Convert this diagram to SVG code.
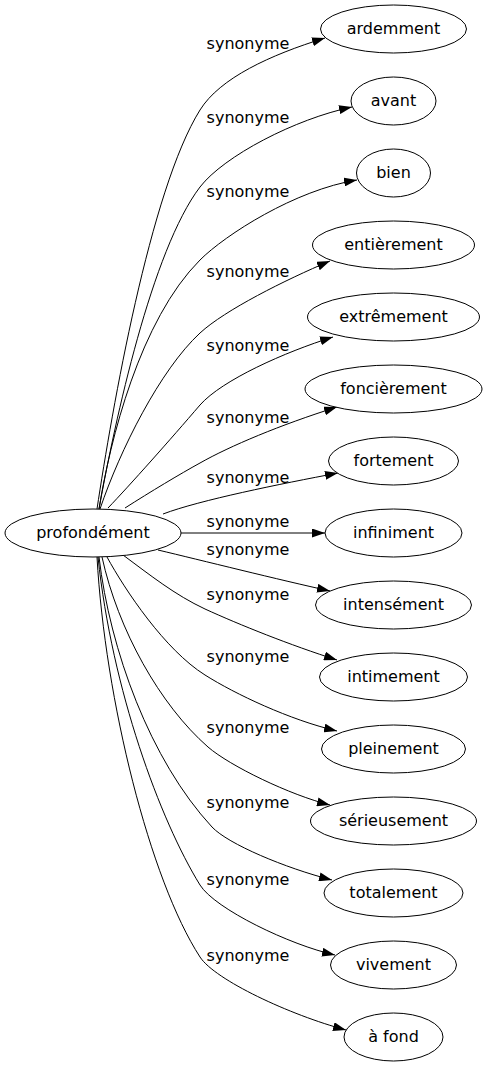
<svg xmlns="http://www.w3.org/2000/svg" width="486" height="1067" viewBox="0 0 486 1067">
<style>
.n ellipse{fill:#fff;stroke:#000;stroke-width:1}
text{font-family:"DejaVu Sans","Liberation Sans",sans-serif;font-size:16px;fill:#000}
.n text{text-anchor:middle}
.lbl text{text-anchor:middle}
.e path{fill:none;stroke:#000;stroke-width:1;marker-end:url(#arr)}
</style>
<defs>
<marker id="arr" markerWidth="13" markerHeight="9" refX="13" refY="4.5" orient="auto" markerUnits="userSpaceOnUse"><path d="M0,0 L13,4.5 L0,9 z" fill="#000"/></marker>
</defs>
<rect width="486" height="1067" fill="#fff"/>
<g id="edges" class="e">
<path d="M97,509 C112,410 150,190 200,110 C220,78 270,55 325,38"/>
<path d="M99,509 C115,420 152,250 200,187 C224,156 295,119 352,107"/>
<path d="M99,509 C110,440 140,320 200,260 C225,235 295,190 357,180"/>
<path d="M100,509 C120,450 160,370 200,333 C225,310 285,280 330,261"/>
<path d="M108,508 C130,485 170,440 200,405 C222,380 285,352 333,337"/>
<path d="M125,508 C150,492 180,474 200,463 C230,446 280,425 337,407"/>
<path d="M163,514 C200,500 280,484 338,473"/>
<path d="M181,533 L325,533"/>
<path d="M158,550 C200,560 280,580 330,591"/>
<path d="M123,555 C150,575 175,595 205,609 C240,625 290,645 337,660"/>
<path d="M107,557 C125,590 165,650 205,675 C235,694 290,720 337,731"/>
<path d="M102,557 C118,630 160,705 208,747 C230,766 290,795 330,805"/>
<path d="M99,557 C110,650 150,760 212,827 C228,844 285,868 332,880"/>
<path d="M98,557 C112,690 160,820 200,885 C215,909 290,945 335,955"/>
<path d="M97,557 C105,700 150,880 200,957 C215,980 290,1015 346,1030"/>
</g>
<g id="labels" class="lbl">
<text x="248" y="49">synonyme</text>
<text x="248" y="123">synonyme</text>
<text x="248" y="197">synonyme</text>
<text x="248" y="277">synonyme</text>
<text x="248" y="351">synonyme</text>
<text x="248" y="423">synonyme</text>
<text x="248" y="483">synonyme</text>
<text x="248" y="527">synonyme</text>
<text x="248" y="555">synonyme</text>
<text x="248" y="600">synonyme</text>
<text x="248" y="662">synonyme</text>
<text x="248" y="733">synonyme</text>
<text x="248" y="808">synonyme</text>
<text x="248" y="885">synonyme</text>
<text x="248" y="961">synonyme</text>
</g>
<g id="n-profondement" class="n"><ellipse cx="93" cy="533" rx="88" ry="24"/><text x="93" y="538">profondément</text></g>
<g id="n-ardemment" class="n"><ellipse cx="393.5" cy="29" rx="73" ry="24"/><text x="393.5" y="34">ardemment</text></g>
<g id="n-avant" class="n"><ellipse cx="393.5" cy="101" rx="42.5" ry="24"/><text x="393.5" y="106">avant</text></g>
<g id="n-bien" class="n"><ellipse cx="393.5" cy="173" rx="37" ry="24"/><text x="393.5" y="178">bien</text></g>
<g id="n-entierement" class="n"><ellipse cx="393.5" cy="245" rx="81" ry="24"/><text x="393.5" y="250">entièrement</text></g>
<g id="n-extremement" class="n"><ellipse cx="393.5" cy="317" rx="86" ry="24"/><text x="393.5" y="322">extrêmement</text></g>
<g id="n-foncierement" class="n"><ellipse cx="393.5" cy="389" rx="88.5" ry="24"/><text x="393.5" y="394">foncièrement</text></g>
<g id="n-fortement" class="n"><ellipse cx="393.5" cy="461" rx="65" ry="24"/><text x="393.5" y="466">fortement</text></g>
<g id="n-infiniment" class="n"><ellipse cx="393.5" cy="533" rx="68.5" ry="24"/><text x="393.5" y="538">infiniment</text></g>
<g id="n-intensement" class="n"><ellipse cx="393.5" cy="605" rx="78" ry="24"/><text x="393.5" y="610">intensément</text></g>
<g id="n-intimement" class="n"><ellipse cx="393.5" cy="677" rx="74" ry="24"/><text x="393.5" y="682">intimement</text></g>
<g id="n-pleinement" class="n"><ellipse cx="393.5" cy="749" rx="72" ry="24"/><text x="393.5" y="754">pleinement</text></g>
<g id="n-serieusement" class="n"><ellipse cx="393.5" cy="821" rx="83" ry="24"/><text x="393.5" y="826">sérieusement</text></g>
<g id="n-totalement" class="n"><ellipse cx="393.5" cy="893" rx="69.5" ry="24"/><text x="393.5" y="898">totalement</text></g>
<g id="n-vivement" class="n"><ellipse cx="393.5" cy="965" rx="63" ry="24"/><text x="393.5" y="970">vivement</text></g>
<g id="n-afond" class="n"><ellipse cx="393.5" cy="1037" rx="49.5" ry="24"/><text x="393.5" y="1042">à fond</text></g>
</svg>
